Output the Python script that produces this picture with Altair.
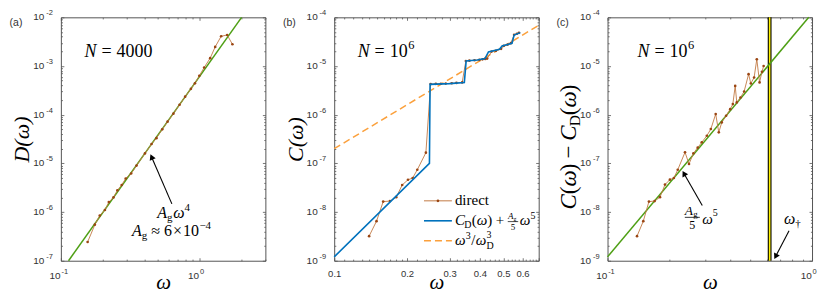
import math
import altair as alt
import pandas as pd

# ------------------------------------------------------------------ data
# (a) N = 4000 : D(omega), direct
a_omega = [0.156, 0.176, 0.191, 0.208, 0.222, 0.240, 0.256, 0.275, 0.294, 0.322,
           0.352, 0.405, 0.452, 0.490, 0.540, 0.590, 0.650, 0.720, 0.790, 0.870,
           0.930, 1.000, 1.084, 1.198, 1.302, 1.438, 1.589, 1.734]
a_D = [2.42e-7, 5.5e-7, 8.5e-7, 1.10e-6, 1.60e-6, 2.0e-6, 2.8e-6, 3.6e-6, 4.9e-6, 6.2e-6,
       9.0e-6, 1.6e-5, 2.5e-5, 3.3e-5, 5.0e-5, 7.2e-5, 1.05e-4, 1.6e-4, 2.35e-4, 3.4e-4,
       4.4e-4, 6.3e-4, 9.3e-4, 1.45e-3, 2.47e-3, 4.08e-3, 4.34e-3, 2.8e-3]
# A_g w^4 line (where it meets the frame)
a_fit_omega = [0.1136, 2.02]
a_fit_D = [1e-7, 1e-2]

# (b) N = 10^6 : C(omega)
b_omega = [0.1394, 0.1496, 0.1594, 0.170, 0.1805, 0.191, 0.2018, 0.211, 0.2205, 0.2393,
           0.2503, 0.263, 0.276, 0.289, 0.306, 0.320, 0.338, 0.350, 0.362, 0.380,
           0.398, 0.410, 0.421, 0.4286, 0.447, 0.4656, 0.4895, 0.502, 0.521, 0.537,
           0.554, 0.569, 0.580]
b_direct = [3.2e-9, 6.5e-9, 1.64e-8, 1.68e-8, 2.02e-8, 3.6e-8, 4.6e-8, 5.0e-8, 7.4e-8, 1.66e-7,
            4.25e-6, 4.30e-6, 4.32e-6, 4.36e-6, 4.42e-6, 4.50e-6, 4.60e-6, 1.27e-5, 1.29e-5, 1.31e-5,
            1.34e-5, 1.37e-5, 1.40e-5, 1.42e-5, 1.98e-5, 2.05e-5, 2.25e-5, 2.60e-5, 2.75e-5, 2.95e-5,
            4.35e-5, 4.60e-5, 4.80e-5]
b_model_omega = [0.1, 0.2475, 0.249, 0.30, 0.345, 0.351, 0.39, 0.42, 0.434, 0.482,
                 0.494, 0.543, 0.554, 0.588]
b_model_C = [1.2e-9, 1.0e-7, 4.2e-6, 4.35e-6, 4.6e-6, 1.27e-5, 1.33e-5, 1.42e-5, 1.95e-5, 2.2e-5,
             2.58e-5, 2.93e-5, 4.34e-5, 4.85e-5]
b_debye_omega = [0.1, 0.7]
b_debye_C = [2.0e-7, 6.86e-5]

# (c) N = 10^6 : C(omega) - C_D(omega)
c_omega = b_omega
c_diff = [3.2e-9, 6.5e-9, 1.64e-8, 1.68e-8, 2.02e-8, 3.66e-8, 4.63e-8, 5.0e-8, 7.4e-8, 1.69e-7,
          9.7e-8, 1.61e-7, 2.1e-7, 2.7e-7, 3.7e-7, 5.07e-7, 1.03e-6, 4.34e-7, 6.95e-7, 9.5e-7,
          1.3e-6, 1.65e-6, 3.9e-6, 1.79e-6, 2.26e-6, 3.0e-6, 6.8e-6, 4.38e-6, 5.8e-6, 1.38e-5,
          4.6e-6, 7.6e-6, 1.0e-5]
c_fit_omega = [0.1, 0.964]
c_fit = [1.2e-9, 1.0e-4]
omega_dagger = [0.6205]

# ------------------------------------------------------------------ style
SERIF = "Liberation Serif"
SANS = "Liberation Sans"
FRAME = "#555555"
LABEL = "#333333"
BROWN_L = "#C27A44"
BROWN_D = "#9A4512"
BLUE = "#0072BD"
ORANGE = "#FBA03C"
GREEN = "#4E9F14"
W, H = 205, 244
YDEC = H / 5.0
TFS, EFS = 10.0, 7.5       # tick label font size: mantissa "10", exponent


def minor_log(e0, e1):
    return [k * 10.0 ** e for e in range(e0, e1) for k in range(2, 10)]


ROMAN_W = {' ': 0.25, '(': 0.333, ')': 0.333, '=': 0.564, '−': 0.564, '×': 0.564, '≈': 0.549,
           '+': 0.564, '/': 0.278, '.': 0.25, 'D': 0.722, 'C': 0.667, 'N': 0.722, 'A': 0.722,
           'g': 0.5, 'd': 0.5, 'i': 0.278, 'r': 0.333, 'e': 0.444, 'c': 0.444, 't': 0.278,
           '†': 0.5, 'ω': 0.686}
ITAL_W = {'A': 0.611, 'C': 0.667, 'D': 0.722, 'N': 0.667, 'ω': 0.667, 'g': 0.5}


def tw(s, size, it):
    tab = ITAL_W if it else ROMAN_W
    return sum(tab.get(ch, ROMAN_W.get(ch, 0.5)) for ch in s) * size


def xy_enc(xs, ys):
    return dict(x=alt.X('x:Q', scale=xs, axis=None), y=alt.Y('y:Q', scale=ys, axis=None))


def text_piece(anchor, t, size, it, dx, dy, angle=0, color='black', font=SERIF,
               align='left', baseline='alphabetic'):
    props = dict(text=t, font=font, fontSize=size, fontStyle='italic' if it else 'normal',
                 align=align, baseline=baseline, dx=round(dx, 2), dy=round(dy, 2), color=color)
    if angle:
        props['angle'] = angle
    if anchor[0] == 'data':
        _, ax, ay, xs, ys = anchor
        return alt.Chart(pd.DataFrame({'x': [ax], 'y': [ay]})).mark_text(**props).encode(**xy_enc(xs, ys))
    _, ax, ay = anchor
    return alt.Chart(pd.DataFrame({'k': [0]})).mark_text(**props).encode(x=alt.value(ax), y=alt.value(ay))


def compose(anchor, pieces, align='left', angle=0):
    """pieces: (text, size, italic, dy, gap_before)"""
    total = sum(p[4] + tw(p[0], p[1], p[2]) for p in pieces)
    cur = -total / 2.0 if align == 'center' else 0.0
    out = []
    for t, s, it, dy, gap in pieces:
        cur += gap
        out.append(text_piece(anchor, t, s, it, cur, dy, angle=angle))
        cur += tw(t, s, it)
    return out


def line_layer(xv, yv, xs, ys, color, width=1.5, dash=None):
    kw = dict(color=color, strokeWidth=width)
    if dash:
        kw['strokeDash'] = dash
    return alt.Chart(pd.DataFrame({'x': xv, 'y': yv})).mark_line(**kw).encode(**xy_enc(xs, ys))


def points_layer(xv, yv, xs, ys, color, size=7):
    return alt.Chart(pd.DataFrame({'x': xv, 'y': yv})).mark_point(
        filled=True, size=size, color=color, opacity=1).encode(**xy_enc(xs, ys))


def arrow(tail, head_c, angle, xs, ys):
    ln = line_layer([tail[0], head_c[0]], [tail[1], head_c[1]], xs, ys, 'black', 1.1)
    hd = alt.Chart(pd.DataFrame({'x': [head_c[0]], 'y': [head_c[1]]})).mark_point(
        shape='triangle-up', filled=True, size=42, angle=angle, color='black', opacity=1
    ).encode(**xy_enc(xs, ys))
    return [ln, hd]


def tick_axis(orient, vals, size):
    return alt.Axis(orient=orient, values=vals, labels=False, domain=False, grid=False,
                    ticks=True, tickSize=size, offset=-size, tickColor=FRAME, tickWidth=0.8,
                    title=None)


def log_labels_y(exps, ys):
    """'10' with a raised exponent, drawn at each decade of the y scale"""
    df = pd.DataFrame({'y': [10.0 ** e for e in exps], 'e': [str(e) for e in exps]})
    ew = tw("-7", EFS, False) * 1.06 + 0.6
    base = alt.Chart(df)
    ten = base.mark_text(text='10', font=SANS, fontSize=TFS, align='right', baseline='middle',
                         color=LABEL, dx=-ew).encode(x=alt.value(-8), y=alt.Y('y:Q', scale=ys, axis=None))
    ex = base.mark_text(font=SANS, fontSize=EFS, align='right', baseline='middle', color=LABEL,
                        dy=-4).encode(x=alt.value(-8), y=alt.Y('y:Q', scale=ys, axis=None), text='e:N')
    return [ten, ex]


def log_labels_x(exps, xs):
    df = pd.DataFrame({'x': [10.0 ** e for e in exps], 'e': [str(e) for e in exps]})
    base = alt.Chart(df)
    ten = base.mark_text(text='10', font=SANS, fontSize=TFS, align='right', baseline='middle',
                         color=LABEL, dx=-0.3).encode(x=alt.X('x:Q', scale=xs, axis=None),
                                                      y=alt.value(H + 15.5))
    ex = base.mark_text(font=SANS, fontSize=EFS, align='left', baseline='middle', color=LABEL,
                        dx=0.6).encode(x=alt.X('x:Q', scale=xs, axis=None), y=alt.value(H + 11.5),
                                       text='e:N')
    return [ten, ex]


def frame_layers(xs, ys, xdom, ydom, xmaj, xmin, ymaj, ymin, xlab_vals, ytitle):
    df = pd.DataFrame({'x': [xdom[0]], 'y': [ydom[0]]})

    def L(xa, ya):
        return alt.Chart(df).mark_point(opacity=0).encode(
            x=alt.X('x:Q', scale=xs, axis=xa), y=alt.Y('y:Q', scale=ys, axis=ya))

    xkw = dict(labels=False)
    if xlab_vals:
        xkw = dict(values=xlab_vals, format='.1f', labelFont=SANS, labelFontSize=9.5,
                   labelColor=LABEL, labelPadding=8, labelOverlap=False, labelFlush=False)
    xa0 = alt.Axis(orient='bottom', ticks=False, domain=False, grid=False,
                   title='ω', titleFont=SERIF,
                   titleFontSize=21, titleFontStyle='italic', titleFontWeight='normal',
                   titleColor='black', titleY=28, titleBaseline='alphabetic', **xkw)
    ykw = dict(title=None)
    if ytitle:
        ykw = dict(title=ytitle, titleFont=SERIF, titleFontSize=22, titleFontStyle='italic',
                   titleFontWeight='normal', titleColor='black', titleAngle=270,
                   titleBaseline='alphabetic', titleAlign='center', titleX=-32)
    ya0 = alt.Axis(orient='left', labels=False, ticks=False, domain=False, grid=False, **ykw)
    return [
        L(xa0, ya0),
        L(tick_axis('bottom', xmaj, 3), tick_axis('left', ymaj, 3)),
        L(tick_axis('bottom', xmin, 1.6), tick_axis('left', ymin, 1.6)),
        L(tick_axis('top', xmaj, 3), tick_axis('right', ymaj, 3)),
        L(tick_axis('top', xmin, 1.6), tick_axis('right', ymin, 1.6)),
    ]


def panel_label(t):
    return text_piece(('px', -45, 6), t, 10.5, False, 0, 0, font=SANS, align='center',
                      baseline='middle', color=LABEL)


def N_label(anchor, rest):
    pcs = [("N", 18, True, 0, 0), ("=", 18, False, 0, 5)]
    if rest == "4000":
        pcs += [("4000", 18, False, 0, 5)]
    else:
        pcs += [("10", 18, False, 0, 5), ("6", 12.5, False, -8.5, 0.5)]
    return compose(anchor, pcs)


def ds(v, dpx, dec):  # shift a log-scale data value by dpx pixels
    return v * 10 ** (dpx / dec)


# ------------------------------------------------------------------ panel (a)
xa_dom, ya_dom = [0.1, 3.0], [1e-7, 1e-2]
xs_a = alt.Scale(type='log', domain=xa_dom, nice=False)
ys_a = alt.Scale(type='log', domain=ya_dom, nice=False)
layers_a = frame_layers(xs_a, ys_a, xa_dom, ya_dom, [0.1, 1.0],
                        [k / 10 for k in range(2, 10)] + [2.0, 3.0],
                        [10.0 ** e for e in range(-7, -1)], minor_log(-7, -2), None, "D(ω)")
layers_a += log_labels_y(list(range(-7, -1)), ys_a) + log_labels_x([-1, 0], xs_a)
layers_a += [
    line_layer(a_fit_omega, a_fit_D, xs_a, ys_a, GREEN, 1.5),
    line_layer(a_omega, a_D, xs_a, ys_a, BROWN_L, 0.9),
    points_layer(a_omega, a_D, xs_a, ys_a, BROWN_D),
]
layers_a += arrow((0.6336, 1.47e-6), (0.4521, 1.357e-5), 336.6, xs_a, ys_a)
layers_a += N_label(('data', 0.1480, 1.515e-3, xs_a, ys_a), "4000")
layers_a += compose(('data', 0.6517, 7.6e-7, xs_a, ys_a),
                    [("A", 16, True, 0, 0), ("g", 11, False, 3, 0),
                     ("ω", 16, True, 0, 1), ("4", 11, False, -7, 0.5)], align='center')
layers_a += compose(('data', 0.6303, 3.25e-7, xs_a, ys_a),
                    [("A", 16, True, 0, 0), ("g", 11, False, 3, 0), ("≈", 16, False, 0, 4),
                     ("6", 16, False, 0, 4), ("×", 16, False, 0, 1), ("10", 16, False, 0, 1),
                     ("−4", 11, False, -7, 0.5)], align='center')
layers_a.append(panel_label("(a)"))
pa = alt.layer(*layers_a).resolve_axis(x='independent', y='independent').properties(width=W, height=H)

# ------------------------------------------------------------------ panel (b)
xb_dom, yb_dom = [0.1, 0.7], [1e-9, 1e-4]
BDEC = W / math.log10(7.0)
xs_b = alt.Scale(type='log', domain=xb_dom, nice=False)
ys_b = alt.Scale(type='log', domain=yb_dom, nice=False)
b_major = [0.1, 0.2, 0.3, 0.4, 0.5, 0.6, 0.7]
b_minor = [round(0.1 + 0.01 * k, 2) for k in range(1, 10)] + \
          [round(0.2 + 0.02 * k, 2) for k in range(1, 25) if k % 5 != 0]
layers_b = frame_layers(xs_b, ys_b, xb_dom, yb_dom, b_major, b_minor,
                        [10.0 ** e for e in range(-9, -3)], minor_log(-9, -4),
                        [0.1, 0.2, 0.3, 0.4, 0.5, 0.6], "C(ω)")
layers_b += log_labels_y(list(range(-9, -3)), ys_b)
layers_b += [
    line_layer(b_debye_omega, b_debye_C, xs_b, ys_b, ORANGE, 1.5, [7, 4]),
    line_layer(b_omega, b_direct, xs_b, ys_b, BROWN_L, 0.9),
    points_layer(b_omega, b_direct, xs_b, ys_b, BROWN_D),
    line_layer(b_model_omega, b_model_C, xs_b, ys_b, BLUE, 1.6),
]
layers_b += N_label(('data', 0.125, 1.515e-5, xs_b, ys_b), "1e6")
# legend (lower right)
lx0, lx1, lxm, ltx = 0.235, 0.3065, 0.2684, 0.3153
r1, r2, r3 = 1.70e-8, 6.61e-9, 2.57e-9
layers_b += [
    line_layer([lx0, lx1], [r1, r1], xs_b, ys_b, BROWN_L, 1.0),
    points_layer([lxm], [r1], xs_b, ys_b, BROWN_D),
    line_layer([lx0, lx1], [r2, r2], xs_b, ys_b, BLUE, 1.6),
    line_layer([lx0, lx1], [r3, r3], xs_b, ys_b, ORANGE, 1.5, [7, 4]),
]
layers_b += compose(('data', ltx, r1, xs_b, ys_b), [("direct", 15, False, 4.5, 0)])
R2 = ('data', ltx, r2, xs_b, ys_b)
layers_b += [
    text_piece(R2, "C", 15, True, 0, 4.5),
    text_piece(R2, "D", 10, False, 9.5, 7.5),
    text_piece(R2, "(", 15, False, 17, 4.5),
    text_piece(R2, "ω", 15, True, 22, 4.5),
    text_piece(R2, ")", 15, False, 32.5, 4.5),
    text_piece(R2, "+", 15, False, 41, 4.5),
    text_piece(R2, "A", 9, True, 53.3, -1.5),
    text_piece(R2, "g", 6, False, 58.8, 0.2),
    text_piece(R2, "5", 9, False, 58.2, 9.2, align='center'),
    text_piece(R2, "ω", 15, True, 65, 4.5),
    text_piece(R2, "5", 10, False, 75.8, -1.5),
]
layers_b.append(alt.Chart(pd.DataFrame({'x': [ds(ltx, 53, BDEC)], 'x2': [ds(ltx, 63.5, BDEC)],
                                        'y': [ds(r2, -0.8, YDEC)]})).mark_rule(
    color='black', strokeWidth=0.7).encode(x=alt.X('x:Q', scale=xs_b, axis=None), x2='x2:Q',
                                           y=alt.Y('y:Q', scale=ys_b, axis=None)))
R3 = ('data', ltx, r3, xs_b, ys_b)
layers_b += [
    text_piece(R3, "ω", 15, True, 0, 4.5),
    text_piece(R3, "3", 10, False, 10.8, -1.5),
    text_piece(R3, "/", 15, False, 16.3, 4.5),
    text_piece(R3, "ω", 15, True, 21, 4.5),
    text_piece(R3, "3", 10, False, 31.8, -2.5),
    text_piece(R3, "D", 10, False, 31.8, 8.5),
]
layers_b.append(panel_label("(b)"))
pb = alt.layer(*layers_b).resolve_axis(x='independent', y='independent').properties(width=W, height=H)

# ------------------------------------------------------------------ panel (c)
xc_dom, yc_dom = [0.1, 1.0], [1e-9, 1e-4]
CDEC = W
xs_c = alt.Scale(type='log', domain=xc_dom, nice=False)
ys_c = alt.Scale(type='log', domain=yc_dom, nice=False)
layers_c = frame_layers(xs_c, ys_c, xc_dom, yc_dom, [0.1, 1.0], [k / 10 for k in range(2, 10)],
                        [10.0 ** e for e in range(-9, -3)], minor_log(-9, -4), None, None)
layers_c += log_labels_y(list(range(-9, -3)), ys_c) + log_labels_x([-1, 0], xs_c)
layers_c += [
    alt.Chart(pd.DataFrame({'x': omega_dagger})).mark_rule(color='black', strokeWidth=3.8).encode(
        x=alt.X('x:Q', scale=xs_c, axis=None)),
    alt.Chart(pd.DataFrame({'x': omega_dagger})).mark_rule(color='#FFF200', strokeWidth=1.6).encode(
        x=alt.X('x:Q', scale=xs_c, axis=None)),
    line_layer(c_fit_omega, c_fit, xs_c, ys_c, GREEN, 1.5),
    line_layer(c_omega, c_diff, xs_c, ys_c, BROWN_L, 0.9),
    points_layer(c_omega, c_diff, xs_c, ys_c, BROWN_D),
]
layers_c += N_label(('data', 0.140, 1.515e-5, xs_c, ys_c), "1e6")
layers_c += arrow((0.2906, 1.36e-8), (0.2364, 6.21e-8), 330.3, xs_c, ys_c)
layers_c += arrow((0.772, 4.12e-9), (0.6637, 1.225e-9), 207.8, xs_c, ys_c)
FR = ('data', 0.2598, 7.79e-9, xs_c, ys_c)
layers_c += [
    text_piece(FR, "A", 13.5, True, -7.5, -2.2),
    text_piece(FR, "g", 9, False, 1.0, 0),
    text_piece(FR, "5", 12, False, 0, 11.5, align='center'),
    text_piece(FR, "ω", 15, True, 10, 7),
    text_piece(FR, "5", 10, False, 20.5, -1),
]
layers_c.append(alt.Chart(pd.DataFrame({'x': [ds(0.2598, -7.5, CDEC)], 'x2': [ds(0.2598, 7.5, CDEC)],
                                        'y': [7.79e-9]})).mark_rule(
    color='black', strokeWidth=0.8).encode(x=alt.X('x:Q', scale=xs_c, axis=None), x2='x2:Q',
                                           y=alt.Y('y:Q', scale=ys_c, axis=None)))
layers_c += compose(('data', 0.730, 5.73e-9, xs_c, ys_c),
                    [("ω", 16, True, 0, 0), ("†", 11, False, 3, 0.5)])
layers_c += compose(('px', -32, H / 2.0 + 8),
                    [("C", 23, True, 0, 0), ("(", 23, False, 0, 0), ("ω", 23, True, 0, 0),
                     (")", 23, False, 0, 0), ("−", 23, False, 0, 5), ("C", 23, True, 0, 5),
                     ("D", 15.5, False, 4, -1), ("(", 23, False, 0, 0), ("ω", 23, True, 0, 0),
                     (")", 23, False, 0, 0)], align='center', angle=270)
layers_c.append(panel_label("(c)"))
pc = alt.layer(*layers_c).resolve_axis(x='independent', y='independent').properties(width=W, height=H)

chart = alt.hconcat(pa, pb, pc, spacing=69, bounds='flush').properties(
    padding={'left': 1, 'top': 0, 'right': 4, 'bottom': 0}
).configure_view(stroke=FRAME, strokeWidth=1)

chart.save("out.html", embed_options={"renderer": "svg", "actions": False})
